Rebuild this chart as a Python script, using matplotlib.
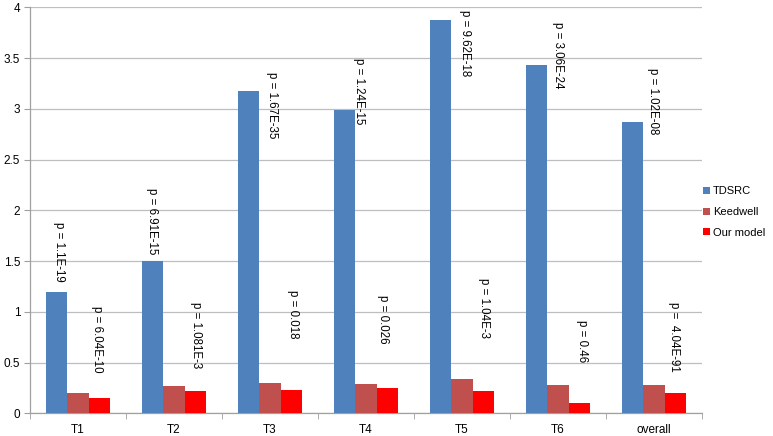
import matplotlib
matplotlib.use("Agg")
import matplotlib.pyplot as plt
import numpy as np

categories = ["T1", "T2", "T3", "T4", "T5", "T6", "overall"]
tdsrc = [1.20, 1.50, 3.18, 2.99, 3.87, 3.43, 2.87]
keedwell = [0.20, 0.27, 0.30, 0.29, 0.34, 0.28, 0.28]
our_model = [0.15, 0.22, 0.23, 0.25, 0.22, 0.10, 0.20]
p_top = ["p = 1.1E-19", "p = 6.91E-15", "p = 1.67E-35", "p = 1.24E-15",
         "p = 9.62E-18", "p = 3.06E-24", "p = 1.02E-08"]
p_bottom = ["p = 6.04E-10", "p = 1.081E-3", "p = 0.018", "p = 0.026",
            "p = 1.04E-3", "p = 0.46", "p =  4.04E-91"]

# annotation placement (x offset from category centre, top of text in data units)
top_pos = [(-0.20, 1.885), (-0.224, 2.22), (0.02, 3.36), (-0.073, 3.50),
           (0.03, 3.97), (0.0, 3.855), (-0.01, 3.40)]
bot_pos = [(0.203, 1.057), (0.229, 1.097), (0.24, 1.215), (0.18, 1.166),
           (0.23, 1.333), (0.25, 0.919), (0.21, 1.097)]

plt.rcParams['font.family'] = ['Liberation Sans', 'DejaVu Sans']

fig = plt.figure(figsize=(7.73, 4.36), dpi=100)
W, H = 773, 436
ax = fig.add_axes([30 / W, (H - 413.3) / H, (702 - 30) / W, (413.3 - 7.3) / H])

x = np.arange(len(categories))
bw = 1 / 4.5
ax.bar(x - bw, tdsrc, bw, color="#4F81BD", label="TDSRC", zorder=3)
ax.bar(x, keedwell, bw, color="#C0504D", label="Keedwell", zorder=3)
ax.bar(x + bw, our_model, bw, color="#FF0000", label="Our model", zorder=3)

for i in range(len(categories)):
    dx, yt = top_pos[i]
    ax.text(x[i] + dx, yt, p_top[i], rotation=-90, ha="center", va="top",
            fontsize=8.3, zorder=4)
    dx, yt = bot_pos[i]
    ax.text(x[i] + dx, yt, p_bottom[i], rotation=-90, ha="center", va="top",
            fontsize=8.3, zorder=4)

ax.set_xlim(-0.5, len(categories) - 0.5)
ax.set_ylim(0, 4)
ax.set_yticks(np.arange(0, 4.01, 0.5))
ax.set_yticklabels(["0", "0.5", "1", "1.5", "2", "2.5", "3", "3.5", "4"], fontsize=8.5)
ax.set_xticks(x)
ax.set_xticklabels(categories, fontsize=8.5)
ax.set_xticks(np.arange(-0.5, len(categories)), minor=True)
ax.tick_params(axis="x", which="major", length=0, pad=8)
ax.tick_params(axis="x", which="minor", length=4, color="#A0A0A0")
ax.tick_params(axis="y", length=4, color="#A0A0A0", pad=3)
ax.grid(axis="y", color="#BEBEBE", linewidth=0.9, zorder=0)
for s in ["top", "right"]:
    ax.spines[s].set_visible(False)
for s in ["left", "bottom"]:
    ax.spines[s].set_color("#A0A0A0")
    ax.spines[s].set_linewidth(0.9)

fig.legend(loc="center left", bbox_to_anchor=(703 / W, (H - 212) / H),
           bbox_transform=fig.transFigure, frameon=False,
           fontsize=8, handlelength=0.6, handleheight=0.6, handletextpad=0.3,
           labelspacing=0.95, borderaxespad=0, borderpad=0)

fig.savefig("out.png", dpi=100)
